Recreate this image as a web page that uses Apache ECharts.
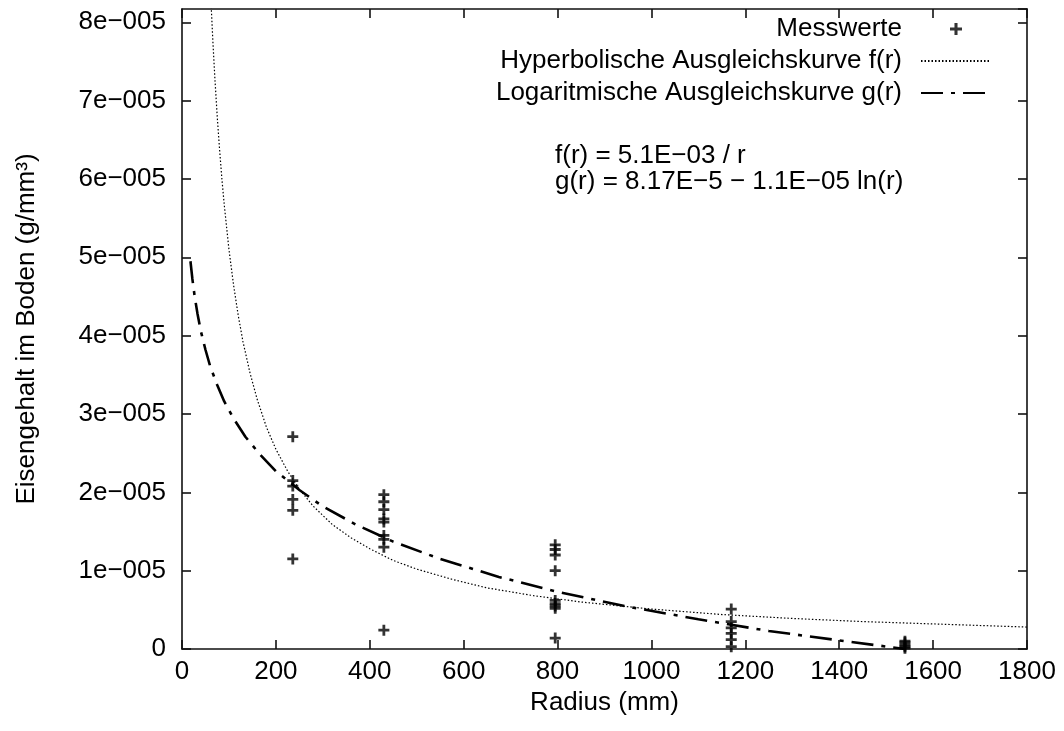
<!DOCTYPE html>
<html><head><meta charset="utf-8">
<script src="https://cdn.jsdelivr.net/npm/echarts@6/dist/echarts.min.js"></script>
<style>html,body{margin:0;padding:0;background:#fff}#c{width:1064px;height:731px}</style>
</head><body><div id="c"></div>
<script>
// ---- data ----
const xTicks = [0, 200, 400, 600, 800, 1000, 1200, 1400, 1600, 1800];
const xTickLabels = ['0', '200', '400', '600', '800', '1000', '1200', '1400', '1600', '1800'];
const yTicks = [0, 1e-5, 2e-5, 3e-5, 4e-5, 5e-5, 6e-5, 7e-5, 8e-5];
const yTickLabels = ['0', '1e\u2212005', '2e\u2212005', '3e\u2212005', '4e\u2212005', '5e\u2212005', '6e\u2212005', '7e\u2212005', '8e\u2212005'];

const radii = [236, 430, 795, 1170, 1540];
const m236 = [2.71e-5, 2.15e-5, 2.08e-5, 1.91e-5, 1.77e-5, 1.15e-5];
const m430 = [1.97e-5, 1.88e-5, 1.78e-5, 1.66e-5, 1.62e-5, 1.45e-5, 1.40e-5, 1.30e-5, 0.24e-5];
const m795 = [1.33e-5, 1.27e-5, 1.20e-5, 1.00e-5, 0.62e-5, 0.58e-5, 0.55e-5, 0.52e-5, 0.14e-5];
const m1170 = [0.51e-5, 0.35e-5, 0.27e-5, 0.20e-5, 0.12e-5, 0.03e-5];
const m1540 = [0.10e-5, 0.08e-5, 0.05e-5, 0.03e-5, 0.01e-5];

const hypR = [55, 58, 62, 66, 70, 75, 80, 85, 90, 100, 110, 120, 130, 145, 160, 180, 200, 225, 250, 280, 320, 360, 400, 450, 500, 575, 650, 750, 850, 1000, 1150, 1300, 1450, 1600, 1800];
const hypF = [9.27e-5, 8.79e-5, 8.23e-5, 7.73e-5, 7.29e-5, 6.80e-5, 6.38e-5, 6.00e-5, 5.67e-5, 5.10e-5, 4.64e-5, 4.25e-5, 3.92e-5, 3.52e-5, 3.19e-5, 2.83e-5, 2.55e-5, 2.27e-5, 2.04e-5, 1.82e-5, 1.59e-5, 1.42e-5, 1.28e-5, 1.13e-5, 1.02e-5, 0.89e-5, 0.78e-5, 0.68e-5, 0.60e-5, 0.51e-5, 0.44e-5, 0.39e-5, 0.35e-5, 0.32e-5, 0.28e-5];

const logR = [18, 22, 27, 33, 40, 50, 60, 75, 90, 110, 135, 165, 200, 250, 300, 370, 450, 550, 675, 800, 950, 1100, 1250, 1400, 1540];
const logG = [4.95e-5, 4.73e-5, 4.50e-5, 4.28e-5, 4.06e-5, 3.82e-5, 3.61e-5, 3.37e-5, 3.16e-5, 2.94e-5, 2.71e-5, 2.49e-5, 2.27e-5, 2.03e-5, 1.82e-5, 1.59e-5, 1.37e-5, 1.15e-5, 0.92e-5, 0.73e-5, 0.54e-5, 0.38e-5, 0.23e-5, 0.11e-5, 0.00e-5];

const seriesNames = ['Messwerte', 'Hyperbolische Ausgleichskurve f(r)', 'Logaritmische Ausgleichskurve g(r)'];
const formulaLines = ['f(r) = 5.1E\u221203 / r', 'g(r) = 8.17E\u22125 \u2212 1.1E\u221205 ln(r)'];
const xName = 'Radius (mm)';
const yName = 'Eisengehalt im Boden (g/mm\u00b3)';

// ---- build ----
const measured = [m236, m430, m795, m1170, m1540];
const scatterData = [];
measured.forEach((arr, i) => arr.forEach(v => scatterData.push([radii[i], v])));
const hypData = hypR.map((r, i) => [r, hypF[i]]);
const logData = logR.map((r, i) => [r, logG[i]]);

const FONT = '"Liberation Sans", Arial, Helvetica, sans-serif';
const FS = 26;
const black = '#000';
function tickLabel(ticks, labels) {
  return function (v) {
    for (let i = 0; i < ticks.length; i++) {
      if (Math.abs(v - ticks[i]) <= Math.abs(ticks[1] - ticks[0]) * 1e-6) return labels[i];
    }
    return '';
  };
}
const lineSt = { color: '#111', width: 1.6 };
const tickSt = { show: true, inside: true, length: 9, lineStyle: { color: '#111', width: 1.6 } };
const crossPath = 'path://M4.1,0 H6.9 V4.1 H11 V6.9 H6.9 V11 H4.1 V6.9 H0 V4.1 H4.1 Z';
const hidden = { color: 'rgba(0,0,0,0)', borderColor: 'rgba(0,0,0,0)', borderWidth: 0 };

const chart = echarts.init(document.getElementById('c'), null, { renderer: 'canvas' });
chart.setOption({
  animation: false,
  backgroundColor: '#fff',
  textStyle: { fontFamily: FONT },
  grid: { left: 182, right: 37, top: 9, bottom: 82, containLabel: false, outerBoundsMode: 'none' },
  xAxis: [
    { type: 'value', min: 0, max: 1800, interval: 200, position: 'bottom',
      axisLine: { show: true, onZero: false, lineStyle: lineSt }, axisTick: tickSt,
      axisLabel: { fontSize: FS, color: black, margin: 10, fontFamily: FONT, formatter: tickLabel(xTicks, xTickLabels) },
      splitLine: { show: false },
      name: xName, nameLocation: 'middle', nameGap: 38,
      nameTextStyle: { fontSize: FS, color: black, fontFamily: FONT } },
    { type: 'value', min: 0, max: 1800, interval: 200, position: 'top',
      axisLine: { show: true, onZero: false, lineStyle: lineSt }, axisTick: tickSt,
      axisLabel: { show: false }, splitLine: { show: false } }
  ],
  yAxis: [
    { type: 'value', min: 0, max: 8.17e-5, interval: 1e-5, position: 'left',
      axisLine: { show: true, onZero: false, lineStyle: lineSt }, axisTick: tickSt,
      axisLabel: { fontSize: FS, color: black, margin: 16, fontFamily: FONT, showMaxLabel: false, formatter: tickLabel(yTicks, yTickLabels) },
      splitLine: { show: false },
      name: yName, nameLocation: 'middle', nameGap: 142,
      nameTextStyle: { fontSize: FS, color: black, fontFamily: FONT } },
    { type: 'value', min: 0, max: 8.17e-5, interval: 1e-5, position: 'right',
      axisLine: { show: true, onZero: false, lineStyle: lineSt }, axisTick: tickSt,
      axisLabel: { show: false }, splitLine: { show: false } }
  ],
  legend: {
    orient: 'vertical', align: 'right', right: 67, top: 11,
    itemWidth: 70, itemHeight: 12, itemGap: 6, selectedMode: false,
    textStyle: { fontSize: FS, lineHeight: 26, color: black, fontFamily: FONT, padding: [0, 14, 0, 0] },
    data: [
      { name: seriesNames[0] },
      { name: seriesNames[1], itemStyle: hidden },
      { name: seriesNames[2], itemStyle: hidden }
    ]
  },
  graphic: [
    { type: 'text', left: 555, top: 143, style: { text: formulaLines[0], fontSize: FS, lineHeight: 26, fill: black, fontFamily: FONT } },
    { type: 'text', left: 555, top: 169, style: { text: formulaLines[1], fontSize: FS, lineHeight: 26, fill: black, fontFamily: FONT } }
  ],
  series: [
    { name: seriesNames[0], type: 'scatter', data: scatterData, symbol: crossPath, symbolSize: 11,
      itemStyle: { color: black }, clip: true },
    { name: seriesNames[1], type: 'line', data: hypData, showSymbol: false, symbol: 'none',
      smooth: false, clip: true,
      itemStyle: { color: black }, lineStyle: { color: black, width: 1.2, type: [1.5, 2] } },
    { name: seriesNames[2], type: 'line', data: logData, showSymbol: false, symbol: 'none',
      smooth: false, clip: true,
      itemStyle: { color: black }, lineStyle: { color: black, width: 2.6, type: [22, 8, 4, 8] } }
  ]
});
</script>
</body></html>
